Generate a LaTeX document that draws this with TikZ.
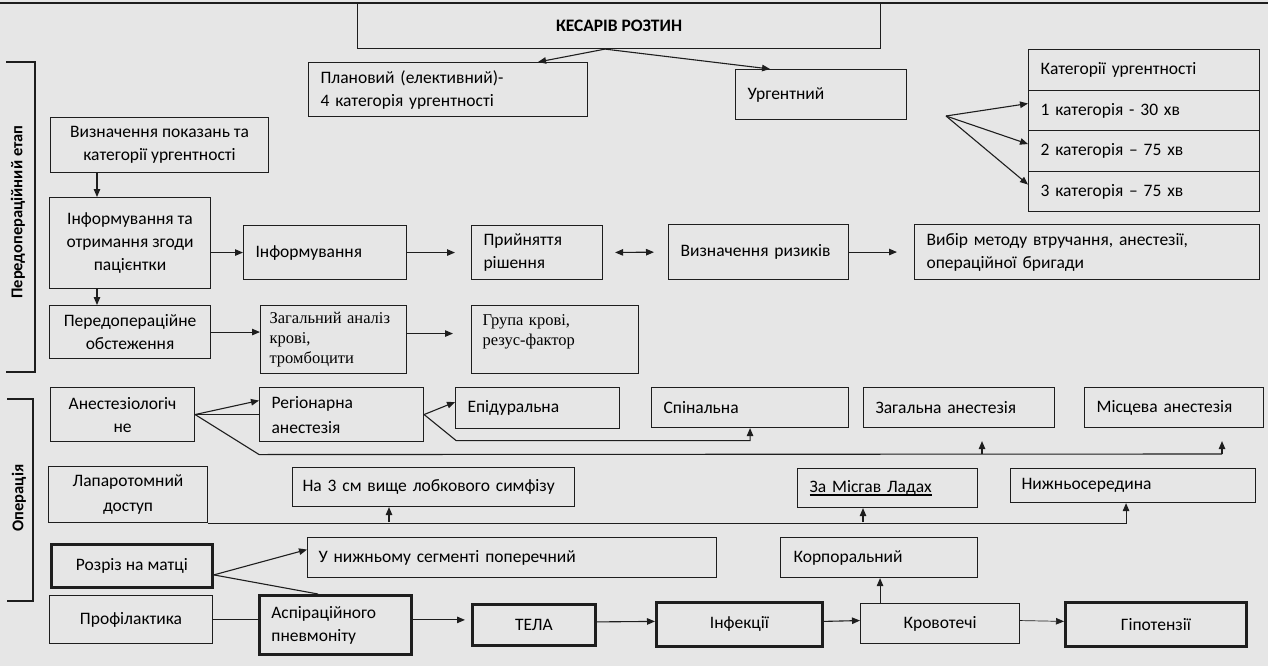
\documentclass[tikz,border=0pt]{standalone}
\usepackage{fontspec}
\setmainfont{Carlito}
\newfontfamily\timesfont{Liberation Serif}
\usetikzlibrary{arrows.meta}

\definecolor{bgcol}{HTML}{E6E6E6}
\definecolor{linecol}{HTML}{1E1E1E}
\newcommand\figfont{\fontsize{17.5}{23}\selectfont}
\newcommand\sidefont{\fontsize{16.5}{20}\selectfont\bfseries}
\newcommand\seriffont{\timesfont\fontsize{16.5}{20}\selectfont}
\newcommand\thickul[1]{\leavevmode\setbox0\hbox{#1}\rlap{\rule[-3pt]{\wd0}{1.6pt}}\box0}

\begin{document}
\begin{tikzpicture}[
    x=1pt, y=-1pt,
    font=\figfont,
    % boxes are placed by their upper left corner, in pixels of the page
    box/.style={draw=linecol, line width=1.1pt, anchor=north west, inner xsep=12pt, inner ysep=0pt},
    leftbox/.style={box, align=left},
    midbox/.style={box, align=center},
    thickbox/.style={midbox, line width=2.8pt},
    conn/.style={line width=1.1pt, draw=linecol},
    arr/.style={conn, -{Triangle[length=8pt,width=6.5pt]}},
    arrboth/.style={conn, {Triangle[length=8pt,width=6.5pt]}-{Triangle[length=8pt,width=6.5pt]}}
]
    \useasboundingbox (0,0) rectangle (1268,666);
    \fill[bgcol] (0,0) rectangle (1268,666);
    \draw[conn] (0,3) -- (1268,3);

    % --- Title and the kinds of operation ---
    \node[midbox, minimum width=523, minimum height=45, font=\figfont\bfseries] (caesar) at (357,3) {КЕСАРІВ РОЗТИН};
    \node[leftbox, minimum width=279, minimum height=54, text width=255] (plan) at (308,62) {Плановий (елективний)-\\4 категорія ургентності};
    \node[leftbox, minimum width=171, minimum height=50, text width=147] (urgent) at (735,69) {Ургентний};

    % --- Table of the categories ---
    \node[leftbox, minimum width=231, minimum height=41, text width=207] (cat0) at (1028,49) {Категорії ургентності};
    \node[leftbox, minimum width=231, minimum height=40, text width=207] (cat1) at (1028,90) {1 категорія - 30 хв};
    \node[leftbox, minimum width=231, minimum height=41, text width=207] (cat2) at (1028,130) {2 категорія – 75 хв};
    \node[leftbox, minimum width=231, minimum height=40, text width=207] (cat3) at (1028,171) {3 категорія – 75 хв};

    % --- Preoperative stage ---
    \node[midbox, minimum width=218, minimum height=55] (indic) at (50,117) {Визначення показань та\\категорії ургентності};
    \node[midbox, minimum width=161, minimum height=91] (consent) at (49,197) {Інформування та\\отримання згоди\\пацієнтки};
    \node[midbox, minimum width=161, minimum height=53] (preop) at (49,305) {Передопераційне\\обстеження};
    \node[leftbox, minimum width=163, minimum height=54, text width=139] (inform) at (243,225) {Інформування};
    \node[leftbox, minimum width=131, minimum height=54, text width=107] (decision) at (471,225) {Прийняття\\рішення};
    \node[leftbox, minimum width=180, minimum height=55, text width=156] (risks) at (668,224) {Визначення ризиків};
    \node[leftbox, minimum width=345, minimum height=55, text width=321] (choice) at (914,224) {Вибір методу втручання, анестезії,\\операційної бригади};
    \node[leftbox, inner xsep=9pt, minimum width=146, minimum height=68, text width=128, font=\seriffont] (blood) at (260,305) {Загальний аналіз\\крові,\\тромбоцити};
    \node[leftbox, inner xsep=11pt, minimum width=167, minimum height=68, text width=145, font=\seriffont] (group) at (471,305) {Група крові,\\резус-фактор\\\mbox{}};

    % --- Operation ---
    \node[midbox, minimum width=144, minimum height=54] (anest) at (50,387) {Анестезіологіч\\не};
    \node[leftbox, minimum width=164, minimum height=54, text width=140] (regional) at (259,387) {Регіонарна\\[2pt]анестезія};
    \node[leftbox, minimum width=164, minimum height=41, text width=140] (epidural) at (455,387) {Епідуральна};
    \node[leftbox, minimum width=197, minimum height=40, text width=173] (spinal) at (651,387) {Спінальна};
    \node[leftbox, minimum width=191, minimum height=40, text width=167] (general) at (863,387) {Загальна анестезія};
    \node[leftbox, minimum width=179, minimum height=40, text width=155] (local) at (1084,387) {Місцева анестезія};

    \node[midbox, minimum width=159, minimum height=56] (lapar) at (48,466) {Лапаротомний\\[2pt]доступ};
    \node[leftbox, inner xsep=10pt, minimum width=282, minimum height=39, text width=262] (symph) at (292,467) {На 3 см вище лобкового симфізу};
    \node[leftbox, minimum width=180, minimum height=39, text width=156] (misgav) at (797,468) {\thickul{За Місгав Ладах}};
    \node[leftbox, inner xsep=11pt, minimum width=245, minimum height=34, text width=223] (median) at (1010,468) {Нижньосередина};

    \node[thickbox, minimum width=161, minimum height=43] (incision) at (50,543) {Розріз на матці};
    \node[leftbox, inner xsep=11pt, minimum width=409, minimum height=40, text width=387] (lowseg) at (307,537) {У нижньому сегменті поперечний};
    \node[leftbox, inner xsep=13pt, minimum width=197, minimum height=40, text width=171] (corporal) at (780,537) {Корпоральний};

    \node[midbox, minimum width=163, minimum height=48] (prophyl) at (49,595) {Профілактика};
    \node[thickbox, align=left, minimum width=152, minimum height=59, text width=128] (aspir) at (258,594) {Аспіраційного\\пневмоніту};
    \node[thickbox, minimum width=123, minimum height=41] (tela) at (471,603) {ТЕЛА};
    \node[thickbox, minimum width=166, minimum height=44] (infect) at (655,601) {Інфекції};
    \node[midbox, minimum width=159, minimum height=40] (bleed) at (860,603) {Кровотечі};
    \node[thickbox, minimum width=181, minimum height=44] (hypot) at (1064,601) {Гіпотензії};

    % --- Side brackets ---
    \draw[conn] (6,62) -- (35,62) -- (35,372) -- (6,372);
    \node[font=\sidefont, rotate=90] (stage1) at (18,212) {Передопераційний етап};
    \draw[conn] (7,399) -- (33,399) -- (33,601) -- (7,601);
    \node[font=\sidefont, rotate=90] (stage2) at (19,498) {Операція};

    % --- Connectors, top part ---
    \draw[arr] ([xshift=-14]caesar.south) -- ([xshift=90]plan.north);
    \draw[arr] ([xshift=-14]caesar.south) -- ([xshift=-51]urgent.north);
    \coordinate (fork) at (946,116);
    \foreach \row in {cat1,cat2,cat3}
        \draw[arr] (fork) -- ([yshift=7]\row.west);

    \coordinate (leftx) at (97,0);
    \draw[arr] (indic.south -| leftx) -- (consent.north -| leftx);
    \draw[arr] (consent.south -| leftx) -- (preop.north -| leftx);
    \draw[arr] (consent.east |- inform.west) -- (inform.west);
    \draw[arr, shorten >=16pt] (inform.east) -- (decision.west);
    \draw[arrboth, shorten <=12pt, shorten >=14pt] (decision.east) -- (risks.west);
    \draw[arr, shorten >=17pt] (risks.east) -- (choice.west);
    \draw[arr] (preop.east) -- (preop.east -| blood.west);
    \draw[arr, shorten >=18pt] ([yshift=6]blood.east) -- ([yshift=6]group.west);

    % --- Connectors, anaesthesia ---
    \draw[arr] (anest.east) -- ([yshift=14]regional.west);
    \draw[conn] (anest.east) -- (regional.west);
    \coordinate (genA) at (982,454);
    \coordinate (locA) at (1222,454);
    \draw[conn] (anest.east) -- ++(64,40) -- (locA);
    \draw[arr, shorten >=13pt] (genA) -- (genA |- general.south);
    \draw[arr, shorten >=13pt] (locA) -- (locA |- local.south);
    \draw[arr] (regional.east) -- ([yshift=6]epidural.west);
    \draw[arr] (regional.east) -- ++(32,26) -| (spinal.south);

    % --- Connectors, access and incision ---
    \coordinate (symA) at (389,522);
    \coordinate (misA) at (863,522);
    \draw[arr] (lapar.south east) -| ([xshift=-7]median.south);
    \draw[arr] (symA) -- (symA |- symph.south);
    \draw[arr] (misA) -- (misA |- misgav.south);

    \draw[arr] ([yshift=-9]incision.east) -- ([yshift=8]lowseg.west);
    \draw[conn] ([yshift=-9]incision.east) -- ([xshift=60]aspir.north west);

    % --- Connectors, prophylaxis chain ---
    \draw[conn] (prophyl.east) -- (prophyl.east -| aspir.west);
    \draw[arr, shorten >=6pt] ([yshift=5]aspir.east) -- ([yshift=5]tela.west);
    \draw[arr] ([yshift=3]tela.east) -- ([yshift=3]infect.west);
    \draw[arr] ([yshift=3]infect.east) -- ([yshift=3]bleed.west);
    \draw[arr, line width=0.7pt] ([yshift=3]bleed.east) -- ([yshift=3]hypot.west);
    \draw[arr] ([xshift=-60]bleed.north) -- ([xshift=-60]bleed.north |- corporal.south);
\end{tikzpicture}
\end{document}
